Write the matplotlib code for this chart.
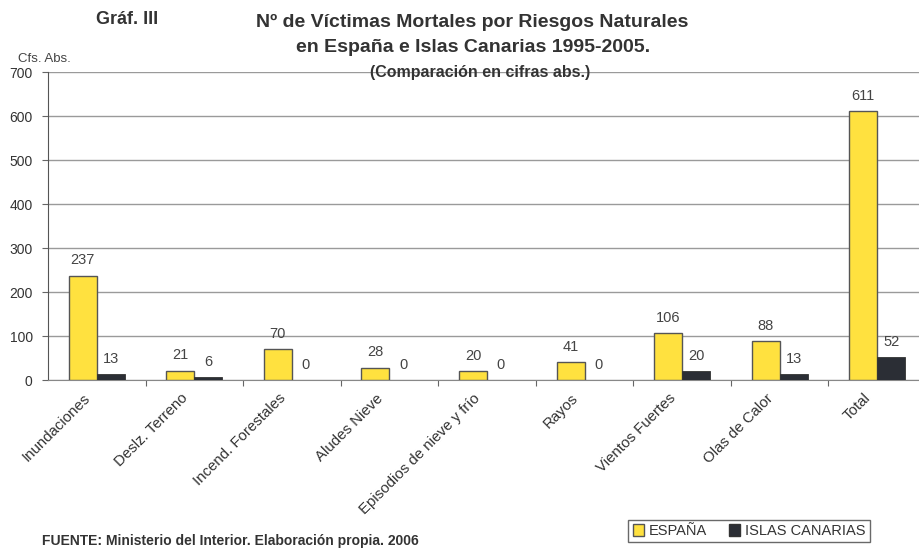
import numpy as np
import matplotlib
matplotlib.use('Agg')
import matplotlib.pyplot as plt
from matplotlib.patches import Patch

plt.rcParams['font.family'] = ['Liberation Sans', 'DejaVu Sans']

# Datos
categorias = ['Inundaciones', 'Deslz. Terreno', 'Incend. Forestales', 'Aludes Nieve',
              'Episodios de nieve y frío', 'Rayos', 'Vientos Fuertes', 'Olas de Calor', 'Total']
espana = [237, 21, 70, 28, 20, 41, 106, 88, 611]
canarias = [13, 6, 0, 0, 0, 0, 20, 13, 52]
yticks = [0, 100, 200, 300, 400, 500, 600, 700]

amarillo = '#FFE13F'
oscuro = '#2B2E35'
gris_txt = '#444444'

fig = plt.figure(figsize=(9.2, 5.5), dpi=100)
ax = fig.add_axes([48/920, 1-380/550, 878/920, 308/550])

x = np.arange(len(categorias))
w = 0.287
ax.bar(x - w/2, espana, w, color=amarillo, edgecolor='#555555', linewidth=1.0, zorder=3)
ax.bar(x + w/2, canarias, w, color=oscuro, edgecolor='#333333', linewidth=0.6, zorder=3)

for i in range(len(x)):
    ax.annotate(str(espana[i]), (x[i] - w/2, espana[i]), xytext=(0, 11), textcoords='offset points',
                ha='center', va='center', fontsize=10.5, color=gris_txt)
    ax.annotate(str(canarias[i]), (x[i] + w/2, canarias[i]), xytext=(0, 11), textcoords='offset points',
                ha='center', va='center', fontsize=10.5, color=gris_txt)

ax.set_xlim(-0.5, len(categorias) - 0.5)
ax.set_ylim(0, 700)
ax.set_yticks(yticks)
ax.set_yticklabels([str(v) for v in yticks], fontsize=10, color='#333333')
ax.yaxis.grid(True, color='#9a9a9a', linewidth=1.0, zorder=0)
ax.set_axisbelow(True)

# ticks de categoria en los limites
ax.set_xticks(np.arange(0.5, len(categorias) - 0.5, 1.0))
ax.set_xticklabels([])
ax.set_xticks(x - 0.14, minor=True)
ax.set_xticklabels(categorias, minor=True, rotation=45, ha='right', rotation_mode='anchor',
                   fontsize=10.8, color='#333333')
ax.tick_params(axis='x', which='minor', length=0, pad=8)
ax.tick_params(axis='x', which='major', length=4, color='#666666', direction='out')
ax.tick_params(axis='y', length=4, color='#666666', direction='out', pad=7)

for s in ['top', 'right']:
    ax.spines[s].set_visible(False)
ax.spines['left'].set_color('#555555')
ax.spines['bottom'].set_color('#888888')

fig.text(127/920, 1-20/550, 'Gráf. III', fontsize=13, fontweight='bold', color='#333333',
         ha='center', va='center')
fig.text(472/920, 1-22/550, 'Nº de Víctimas Mortales por Riesgos Naturales', fontsize=14,
         fontweight='bold', color='#333333', ha='center', va='center')
fig.text(473/920, 1-48/550, 'en España e Islas Canarias 1995-2005.', fontsize=14,
         fontweight='bold', color='#333333', ha='center', va='center')
fig.text(480/920, 1-73/550, '(Comparación en cifras abs.)', fontsize=11.5,
         fontweight='bold', color='#333333', ha='center', va='center')
fig.text(18/920, 1-59/550, 'Cfs. Abs.', fontsize=9.5, color='#444444', ha='left', va='center')
fig.text(42/920, 1-541/550, 'FUENTE: Ministerio del Interior. Elaboración propia. 2006', fontsize=10,
         fontweight='bold', color='#333333', ha='left', va='center')

handles = [Patch(facecolor=amarillo, edgecolor='#555555', label='ESPAÑA'),
           Patch(facecolor=oscuro, edgecolor='#333333', label='ISLAS CANARIAS')]
leg = fig.legend(handles=handles, loc='center', bbox_to_anchor=(749/920, 1-531/550), ncol=2,
                 fontsize=10.5, frameon=True, fancybox=False, handlelength=0.8, handleheight=0.8,
                 handletextpad=0.3, columnspacing=1.5, borderpad=0.3, labelcolor='#333333')
leg.get_frame().set_edgecolor('#444444')
leg.get_frame().set_linewidth(1.0)

fig.savefig('out.png', dpi=100)
